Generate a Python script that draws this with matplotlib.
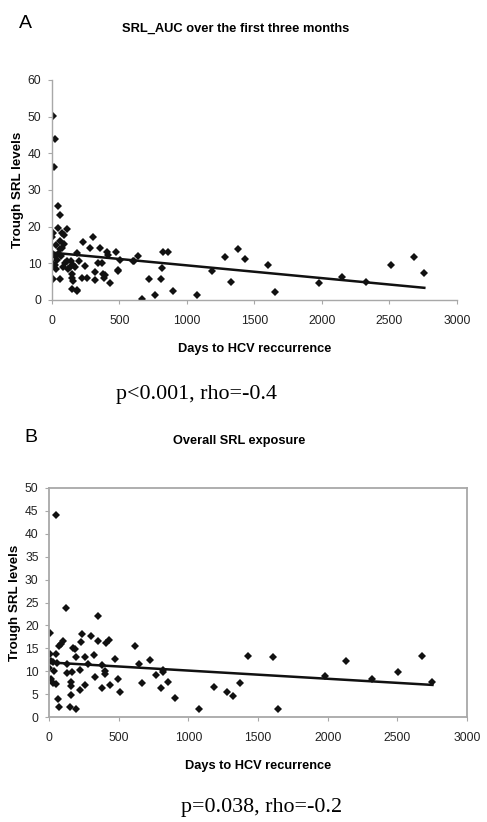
import numpy as np
import matplotlib
matplotlib.use('Agg')
import matplotlib.pyplot as plt

# panel A: SRL_AUC over the first three months
days_a = [12, 27, 20, 47, 62, 7, 2, 49, 113, 79, 91, 94, 76, 62, 49, 27, 12, 40, 7, 25,
          32, 12, 62, 111, 136, 151, 155, 148, 190, 173, 190, 229, 247, 227, 259, 284, 303,
          321, 323, 358, 346, 370, 382, 390, 407, 420, 432, 474, 488, 506, 604, 641, 666,
          723, 765, 807, 817, 821, 858, 900, 1073, 1184, 1285, 1327, 1377, 1429, 1603, 1655,
          1980, 2148, 2323, 2508, 2684, 2758,
          100, 120, 85, 160, 200, 140, 60, 30, 70, 0, 148, 185, 395, 494, 612]
srl_a = [50.2, 43.8, 36.3, 25.7, 23.1, 18.2, 17.1, 19.5, 19.4, 18.4, 17.8, 15.3, 14.3, 13.9,
         12.5, 11.9, 12.5, 11.0, 9.8, 9.5, 8.4, 5.8, 5.8, 10.7, 8.9, 7.0, 5.2, 2.9, 2.7, 8.9,
         12.8, 15.9, 9.2, 5.9, 6.1, 14.3, 17.1, 7.5, 5.5, 14.3, 10.2, 10.0, 7.0, 6.1, 13.2,
         12.3, 4.5, 13.2, 7.9, 11.0, 10.5, 12.1, 0.2, 5.8, 1.3, 5.8, 8.7, 13.2, 13.2, 2.5,
         1.3, 8.0, 11.7, 4.8, 13.8, 11.1, 9.6, 2.1, 4.5, 6.3, 4.9, 9.6, 11.6, 7.4,
         10.0, 8.5, 9.0, 9.5, 10.5, 10.5, 16.0, 15.0, 12.0, 9.3, 6.1, 2.5, 6.8, 8.2, 10.7]

# panel B: overall SRL exposure
days_b = [48, 119, 352, 7, 238, 305, 98, 88, 231, 352, 412, 428, 71, 174, 186, 614, 7, 48,
          195, 257, 321, 476, 643, 726, 12, 31, 60, 126, 281, 381, 0, 36, 131, 167, 219, 400,
          400, 329, 493, 767, 817, 821, 12, 31, 48, 155, 155, 257, 436, 669, 852, 1369, 219,
          383, 805, 507, 1183, 1279, 1321, 160, 902, 64, 74, 148, 195, 1074, 1643, 1429,
          1605, 1978, 2135, 2317, 2503, 2677, 2752]
srl_b = [44.1, 23.7, 22.1, 18.4, 18.2, 17.6, 16.5, 15.9, 16.4, 16.7, 16.1, 16.8, 15.4, 15.1,
         14.9, 15.4, 13.7, 13.7, 13.1, 13.0, 13.5, 12.7, 11.6, 12.4, 12.2, 11.9, 11.8, 11.5,
         11.5, 11.4, 10.6, 10.0, 9.5, 9.8, 10.3, 10.0, 9.3, 8.8, 8.4, 9.2, 9.8, 10.3, 8.2,
         7.5, 7.1, 7.6, 6.8, 7.0, 7.0, 7.5, 7.7, 7.5, 6.0, 6.3, 6.3, 5.5, 6.6, 5.5, 4.6,
         4.9, 4.1, 3.9, 2.1, 2.1, 1.7, 1.7, 1.7, 13.4, 13.1, 8.9, 12.3, 8.4, 9.8, 13.4, 7.6]

titles = ['SRL_AUC over the first three months', 'Overall SRL exposure']
xlabels = ['Days to HCV reccurrence', 'Days to HCV recurrence']
stats = ['p<0.001, rho=-0.4', 'p=0.038, rho=-0.2']

plt.rcParams['font.family'] = ['Liberation Sans', 'DejaVu Sans']

fig = plt.figure(figsize=(4.87, 8.22), dpi=100)
W, H = 487.0, 822.0


def draw_panel(ax, days, srl, ymax, ystep, boxed, xlab):
    ax.plot(days, srl, 'D', color='#111111', markersize=4.5, markeredgewidth=0)
    # excel-style linear trendline
    k, b = np.polyfit(days, srl, 1)
    xs = np.array([0, max(days)])
    ax.plot(xs, k * xs + b, color='#111111', linewidth=1.8)
    ax.set_xlim(0, 3000)
    ax.set_ylim(0, ymax)
    ax.set_xticks(np.arange(0, 3001, 500))
    ax.set_yticks(np.arange(0, ymax + 1, ystep))
    ax.tick_params(labelsize=8.7, length=3, width=0.8, color='#a8a8a8',
                   labelcolor='#222222')
    ax.tick_params(axis='x', pad=8)
    ax.tick_params(axis='y', pad=4.5)
    for s in ax.spines.values():
        s.set_color('#a8a8a8')
        s.set_linewidth(1.0 if not boxed else 1.3)
    if not boxed:
        ax.spines['top'].set_visible(False)
        ax.spines['right'].set_visible(False)
    ax.set_xlabel(xlab, fontsize=9.2, fontweight='bold', labelpad=11)
    ax.set_ylabel('Trough SRL levels', fontsize=9.6, fontweight='bold', labelpad=2.5)


ax1 = fig.add_axes([51.7 / W, 1 - 300 / H, (457 - 51.7) / W, 220 / H])
draw_panel(ax1, days_a, srl_a, 60, 10, False, xlabels[0])

ax2 = fig.add_axes([49 / W, 1 - 717 / H, 418 / W, 229 / H])
draw_panel(ax2, days_b, srl_b, 50, 5, True, xlabels[1])

fig.text(25 / W, 1 - 24 / H, 'A', fontsize=14, va='center', ha='center')
fig.text(236 / W, 1 - 29 / H, titles[0], fontsize=9.3, fontweight='bold', ha='center', va='center')
fig.text(196 / W, 1 - 394 / H, stats[0], fontsize=15.8, family='Liberation Serif',
         ha='center', va='center')

fig.text(31 / W, 1 - 437 / H, 'B', fontsize=14, va='center', ha='center')
fig.text(239 / W, 1 - 441 / H, titles[1], fontsize=9.2, fontweight='bold', ha='center', va='center')
fig.text(262 / W, 1 - 807 / H, stats[1], fontsize=15.8, family='Liberation Serif',
         ha='center', va='center')

fig.savefig('out.png', dpi=100)
